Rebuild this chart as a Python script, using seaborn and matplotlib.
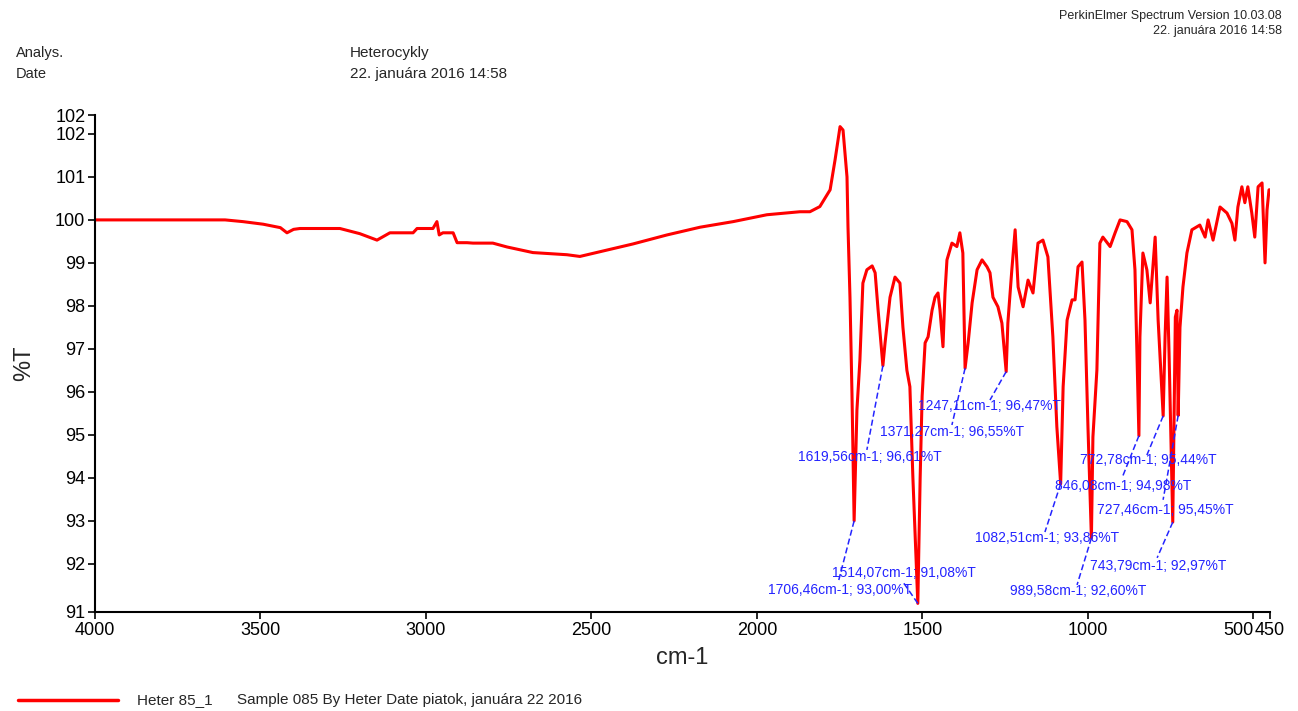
import matplotlib
matplotlib.use("Agg")
import matplotlib.pyplot as plt
import seaborn as sns
import pandas as pd

# ---------------- data ----------------
wavenumber = [4000, 3800, 3607, 3553, 3492, 3440, 3420, 3400, 3381, 3260, 3200, 3148, 3109, 3039,
              3027, 2979, 2967, 2960, 2949, 2918, 2906, 2876, 2858, 2798, 2755, 2677, 2574, 2535,
              2474, 2375, 2272, 2172, 2072, 1970, 1870, 1840, 1810, 1779, 1764, 1749, 1740, 1728,
              1725, 1719, 1713, 1706.46, 1698, 1689, 1680, 1668, 1652, 1643, 1634, 1619.56, 1613,
              1598, 1583, 1568, 1559, 1547, 1538, 1529, 1514.07, 1507, 1501, 1492, 1483, 1471, 1462,
              1453, 1447, 1438, 1432, 1426, 1411, 1396, 1387, 1378, 1371.27, 1362, 1350, 1335, 1320,
              1305, 1296, 1287, 1272, 1260, 1247.11, 1242, 1230, 1220, 1211, 1196, 1181, 1166, 1151,
              1136, 1121, 1106, 1094, 1082.51, 1075, 1063, 1048, 1039, 1030, 1018, 1009, 1000,
              989.58, 985, 973, 964, 955, 933, 918, 903, 882, 867, 858, 846.08, 843, 834, 822, 812,
              797, 788, 772.78, 767, 761, 755, 743.79, 736, 731, 727.46, 722, 713, 701, 686, 662,
              646, 637, 622, 601, 580, 565, 556, 547, 535, 526, 517, 505, 496, 486, 474, 465, 459,
              453, 450]
transmittance = [100.00, 100.00, 100.00, 99.96, 99.90, 99.82, 99.70, 99.78, 99.80, 99.80, 99.68,
                 99.53, 99.70, 99.70, 99.80, 99.80, 99.96, 99.65, 99.70, 99.70, 99.47, 99.47, 99.46,
                 99.46, 99.37, 99.24, 99.19, 99.15, 99.26, 99.44, 99.65, 99.83, 99.96, 100.12,
                 100.19, 100.19, 100.31, 100.70, 101.40, 102.17, 102.09, 101.00, 99.84, 98.20,
                 95.97, 93.00, 95.58, 96.74, 98.53, 98.84, 98.93, 98.77, 97.90, 96.61, 97.14, 98.20,
                 98.67, 98.53, 97.50, 96.50, 96.12, 94.02, 91.08, 94.00, 95.90, 97.14, 97.28, 97.90,
                 98.20, 98.30, 97.90, 97.05, 98.30, 99.07, 99.46, 99.38, 99.70, 99.23, 96.55, 97.14,
                 98.07, 98.84, 99.07, 98.91, 98.77, 98.20, 97.98, 97.60, 96.47, 97.60, 98.84, 99.77,
                 98.44, 97.98, 98.60, 98.30, 99.46, 99.53, 99.14, 97.28, 95.19, 93.86, 96.12, 97.67,
                 98.14, 98.14, 98.91, 99.02, 97.67, 95.19, 92.60, 94.95, 96.51, 99.46, 99.60, 99.38,
                 99.70, 100.00, 99.96, 99.77, 98.84, 94.98, 97.28, 99.23, 98.84, 98.07, 99.60, 97.67,
                 95.44, 97.28, 98.67, 96.90, 92.97, 97.74, 97.90, 95.45, 97.50, 98.44, 99.23, 99.77,
                 99.88, 99.60, 100.00, 99.53, 100.30, 100.16, 99.92, 99.53, 100.30, 100.77, 100.40,
                 100.77, 100.16, 99.60, 100.77, 100.86, 99.00, 100.23, 100.70, 100.70]

peak_wn = [1247.11, 1371.27, 1619.56, 1514.07, 1706.46, 1082.51, 989.58, 846.08, 772.78, 727.46, 743.79]
peak_t = [96.47, 96.55, 96.61, 91.08, 93.00, 93.86, 92.60, 94.98, 95.44, 95.45, 92.97]
peak_labels = ["1247,11cm-1; 96,47%T", "1371,27cm-1; 96,55%T", "1619,56cm-1; 96,61%T",
               "1514,07cm-1; 91,08%T", "1706,46cm-1; 93,00%T", "1082,51cm-1; 93,86%T",
               "989,58cm-1; 92,60%T", "846,08cm-1; 94,98%T", "772,78cm-1; 95,44%T",
               "727,46cm-1; 95,45%T", "743,79cm-1; 92,97%T"]

x_ticks = [4000, 3500, 3000, 2500, 2000, 1500, 1000, 500, 450]
y_ticks = [90.88, 92, 93, 94, 95, 96, 97, 98, 99, 100, 101, 102, 102.44]

# ---------------- layout (label placement) ----------------
label_x = [1514, 1628, 1876, 1773, 1967, 1341, 1236, 1100, 1024, 973, 994]
label_y = [95.67, 95.07, 94.49, 91.79, 91.40, 92.60, 91.37, 93.81, 94.42, 93.26, 91.95]
lead_x = [1296, 1411, 1668, 1559, 1755, 1130, 1033, 897, 822, 773, 791]
lead_y = [95.81, 95.23, 94.65, 91.58, 91.56, 92.74, 91.51, 94.00, 94.53, 93.49, 92.14]

sns.set_style("ticks")
plt.rcParams['font.family'] = ['Liberation Sans', 'DejaVu Sans']

W, H = 1298, 711
fig = plt.figure(figsize=(W / 100, H / 100), dpi=100)
ax = fig.add_axes([95 / W, 1 - 612 / H, (1270 - 95) / W, (612 - 115) / H])

df = pd.DataFrame({"cm-1": wavenumber, "%T": transmittance})
sns.lineplot(data=df, x="cm-1", y="%T", color="#ff0000", lw=2.2, estimator=None,
             sort=False, ax=ax)

blue = "#2424ff"
for i in range(len(peak_wn)):
    ax.plot([peak_wn[i], lead_x[i]], [peak_t[i], lead_y[i]], color=blue, lw=1.1,
            ls=(0, (4, 2)))
    ax.text(label_x[i], label_y[i], peak_labels[i], color=blue, fontsize=10,
            ha="left", va="center")

ax.set_xlim(4000, 450)
ax.set_ylim(90.88, 102.44)
ax.set_xticks(x_ticks)
ax.set_xticklabels([str(v) for v in x_ticks])
ax.set_yticks(y_ticks)
ax.set_yticklabels([str(int(round(v))) for v in y_ticks])
for lbl in ax.get_xticklabels():
    if lbl.get_text() == "500":
        lbl.set_horizontalalignment("right")
ax.tick_params(axis="both", direction="out", length=5, width=1.2, labelsize=13,
               colors="black", pad=2)
for s in ["top", "right"]:
    ax.spines[s].set_visible(False)
for s in ["left", "bottom"]:
    ax.spines[s].set_linewidth(1.5)
    ax.spines[s].set_color("black")
ax.set_xlabel("cm-1", fontsize=17, labelpad=6)
ax.set_ylabel("%T", fontsize=17, labelpad=14)
ax.grid(False)

# header texts
fig.text(16 / W, 1 - 53 / H, "Analys.", fontsize=10.5, va="center", ha="left")
fig.text(16 / W, 1 - 74 / H, "Date", fontsize=10.5, va="center", ha="left")
fig.text(350 / W, 1 - 53 / H, "Heterocykly", fontsize=11, va="center", ha="left")
fig.text(350 / W, 1 - 74 / H, "22. januára 2016 14:58", fontsize=11, va="center", ha="left")
fig.text(1282 / W, 1 - 16 / H, "PerkinElmer Spectrum Version 10.03.08", fontsize=9,
         va="center", ha="right")
fig.text(1282 / W, 1 - 31 / H, "22. januára 2016 14:58", fontsize=9, va="center", ha="right")

# legend
fig.add_artist(plt.Line2D([18 / W, 118 / W], [1 - 700 / H, 1 - 700 / H], color="#ff0000",
                          lw=2.5, transform=fig.transFigure))
fig.text(137 / W, 1 - 700 / H, "Heter 85_1", fontsize=11, va="center", ha="left")
fig.text(237 / W, 1 - 700 / H, "Sample 085 By Heter Date piatok, januára 22 2016",
         fontsize=11, va="center", ha="left")

fig.savefig("out.png", dpi=100)
